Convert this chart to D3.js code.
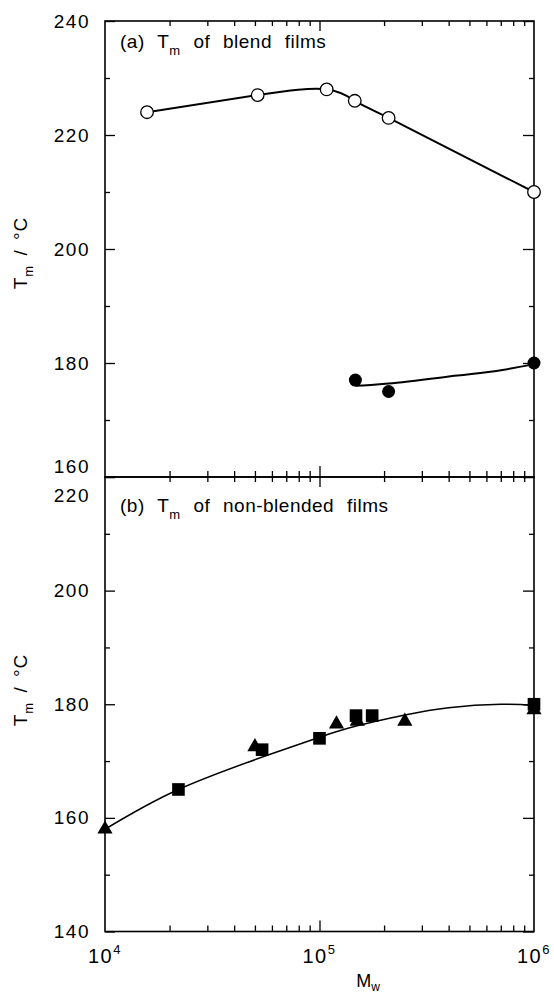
<!DOCTYPE html>
<html>
<head>
<meta charset="utf-8">
<script src="https://cdnjs.cloudflare.com/ajax/libs/d3/7.8.5/d3.min.js"></script>
<style>
body { margin: 0; background: #fff; }
svg { display: block; font-family: "Liberation Sans", Arial, Helvetica, sans-serif; }
.axis path { display: none; }
.axis line { stroke: #000; stroke-width: 1.3; }
.axis text { font-size: 19px; letter-spacing: 1.5px; fill: #000; }
.frame { fill: none; stroke: #000; stroke-width: 1.6; }
.title { font-size: 19px; letter-spacing: 0.5px; word-spacing: 7px; }
</style>
</head>
<body>
<svg width="554" height="996"></svg>
<script>
// (a) blend films - open circles
var blendOpenMw = [1.57e4, 5.15e4, 1.08e5, 1.46e5, 2.1e5, 1.0e6],
    blendOpenTm = [224, 227, 228, 226, 223, 210];

// (a) blend films - filled circles and their fitted line
var blendFilledMw = [1.47e5, 2.1e5, 1.0e6],
    blendFilledTm = [177, 175, 180];
var blendFitMw = [1.47e5, 2.1e5, 4.4e5, 6.9e5, 1.0e6],
    blendFitTm = [176.0, 176.4, 177.8, 178.7, 179.8];

// (b) non-blended films
var squareMw = [2.2e4, 5.4e4, 1.0e5, 1.48e5, 1.76e5, 1.0e6],
    squareTm = [165, 172, 174, 178, 178, 180];
var triangleMw = [1.0e4, 5.0e4, 1.2e5, 1.5e5, 2.5e5, 1.0e6],
    triangleTm = [158, 172.5, 176.5, 177, 177, 179];
var plainFitMw = [1.0e4, 2.2e4, 5.8e4, 1.0e5, 1.5e5, 2.5e5, 4.0e5, 7.0e5, 1.0e6],
    plainFitTm = [158, 165, 171.1, 174.2, 176.2, 178.1, 179.4, 180.0, 179.8];

// ticks
var xMajorTicks = [1e4, 1e5, 1e6],
    topYMajor = [160, 180, 200, 220, 240],
    topYMinor = [170, 190, 210, 230],
    botYMajor = [140, 160, 180, 200, 220],
    botYMinor = [150, 170, 190, 210];

var svg = d3.select("svg"),
    left = 105, right = 534,
    topY0 = 21, midY = 477, botY1 = 931.5;

var x = d3.scaleLog()
    .domain([1e4, 1e6])
    .range([left, right]);

var xMinorTicks = x.ticks().filter(function(d) { return xMajorTicks.indexOf(d) < 0; });

var yTop = d3.scaleLinear()
    .domain([160, 240])
    .range([midY, topY0]);

var yBot = d3.scaleLinear()
    .domain([140, 220])
    .range([botY1, midY]);

function zip(a, b) {
    return a.map(function(d, i) { return [d, b[i]]; });
}

// frames
svg.append("rect").attr("class", "frame")
    .attr("x", left).attr("y", topY0)
    .attr("width", right - left).attr("height", midY - topY0);
svg.append("rect").attr("class", "frame")
    .attr("x", left).attr("y", midY)
    .attr("width", right - left).attr("height", botY1 - midY);

// x ticks: top edge, middle line (both ways), bottom edge
function xTicks(y, axisFn, values, size) {
    svg.append("g")
        .attr("class", "axis")
        .attr("transform", "translate(0," + y + ")")
        .call(axisFn(x).tickValues(values).tickSize(size).tickFormat(""));
}
xTicks(topY0, d3.axisTop, xMinorTicks, -5);
xTicks(topY0, d3.axisTop, [1e5], -10);
xTicks(midY, d3.axisBottom, xMinorTicks, -6);
xTicks(midY, d3.axisBottom, [1e5], -11);
xTicks(midY, d3.axisTop, xMinorTicks, -5);
xTicks(midY, d3.axisTop, [1e5], -10);
xTicks(botY1, d3.axisBottom, xMinorTicks, -6);
xTicks(botY1, d3.axisBottom, [1e5], -11);

// y ticks
function yTicks(scale, major, minor, shift) {
    var gl = svg.append("g")
        .attr("class", "axis")
        .attr("transform", "translate(" + left + ",0)")
        .call(d3.axisLeft(scale).tickValues(major).tickSize(-10).tickPadding(15));
    gl.selectAll(".tick text").attr("y", function(d) { return shift[d] || 0; });
    svg.append("g")
        .attr("class", "axis")
        .attr("transform", "translate(" + left + ",0)")
        .call(d3.axisLeft(scale).tickValues(minor).tickSize(-5).tickFormat(""));
    svg.append("g")
        .attr("class", "axis")
        .attr("transform", "translate(" + right + ",0)")
        .call(d3.axisRight(scale).tickValues(major).tickSize(-11).tickFormat(""));
    svg.append("g")
        .attr("class", "axis")
        .attr("transform", "translate(" + right + ",0)")
        .call(d3.axisRight(scale).tickValues(minor).tickSize(-5).tickFormat(""));
}
yTicks(yTop, topYMajor, topYMinor, {160: -11});
yTicks(yBot, botYMajor, botYMinor, {220: 18});

// x tick labels 10^n
var xl = svg.selectAll(".xlab")
    .data(xMajorTicks)
    .enter().append("text")
    .attr("class", "xlab")
    .attr("x", function(d) { return x(d); })
    .attr("y", 963)
    .attr("text-anchor", "middle")
    .style("font-size", "20px")
    .style("letter-spacing", "1.5px");
xl.append("tspan").text("10");
xl.append("tspan")
    .attr("dy", -9)
    .style("font-size", "13px")
    .text(function(d) { return Math.round(Math.log10(d)); });

// axis titles
var xt = svg.append("text")
    .attr("x", 368)
    .attr("y", 987)
    .attr("text-anchor", "middle")
    .style("font-size", "18px");
xt.append("tspan").text("M");
xt.append("tspan").attr("dy", 4).style("font-size", "12px").text("w");

[253, 690].forEach(function(cy) {
    var yt = svg.append("text")
        .attr("transform", "translate(27," + cy + ")rotate(-90)")
        .attr("text-anchor", "middle")
        .style("font-size", "19px")
        .style("letter-spacing", "1px")
        .style("word-spacing", "3px");
    yt.append("tspan").text("T");
    yt.append("tspan").attr("dy", 6).style("font-size", "13px").text("m");
    yt.append("tspan").attr("dy", -6).text(" / \u00b0C");
});

// panel titles
function title(y, a, rest) {
    var t = svg.append("text")
        .attr("class", "title")
        .attr("x", 120)
        .attr("y", y);
    t.append("tspan").text(a + " T");
    t.append("tspan").attr("dy", 7).style("font-size", "13px").text("m");
    t.append("tspan").attr("dy", -7).text(" " + rest);
}
title(48, "(a)", "of blend films");
title(512, "(b)", "of non-blended films");

// lines
var lineTop = d3.line()
    .x(function(d) { return x(d[0]); })
    .y(function(d) { return yTop(d[1]); });
var lineBot = d3.line()
    .x(function(d) { return x(d[0]); })
    .y(function(d) { return yBot(d[1]); });

svg.append("path")
    .datum(zip(blendOpenMw, blendOpenTm))
    .attr("d", lineTop.curve(d3.curveNatural))
    .style("fill", "none").style("stroke", "#000").style("stroke-width", 2);

svg.append("path")
    .datum(zip(blendFitMw, blendFitTm))
    .attr("d", lineTop.curve(d3.curveNatural))
    .style("fill", "none").style("stroke", "#000").style("stroke-width", 2);

svg.append("path")
    .datum(zip(plainFitMw, plainFitTm))
    .attr("d", lineBot.curve(d3.curveNatural))
    .style("fill", "none").style("stroke", "#000").style("stroke-width", 1.5);

// markers
svg.selectAll(".open")
    .data(zip(blendOpenMw, blendOpenTm))
    .enter().append("circle")
    .attr("cx", function(d) { return x(d[0]); })
    .attr("cy", function(d) { return yTop(d[1]); })
    .attr("r", 6.3)
    .style("fill", "#fff").style("stroke", "#000").style("stroke-width", 1.3);

svg.selectAll(".filled")
    .data(zip(blendFilledMw, blendFilledTm))
    .enter().append("circle")
    .attr("cx", function(d) { return x(d[0]); })
    .attr("cy", function(d) { return yTop(d[1]); })
    .attr("r", 6.5)
    .style("fill", "#000");

svg.selectAll(".tri")
    .data(zip(triangleMw, triangleTm))
    .enter().append("path")
    .attr("transform", function(d) { return "translate(" + x(d[0]) + "," + yBot(d[1]) + ")"; })
    .attr("d", d3.symbol().type(d3.symbolTriangle).size(100))
    .style("fill", "#000");

svg.selectAll(".sq")
    .data(zip(squareMw, squareTm))
    .enter().append("path")
    .attr("transform", function(d) { return "translate(" + x(d[0]) + "," + yBot(d[1]) + ")"; })
    .attr("d", d3.symbol().type(d3.symbolSquare).size(160))
    .style("fill", "#000");
</script>
</body>
</html>
